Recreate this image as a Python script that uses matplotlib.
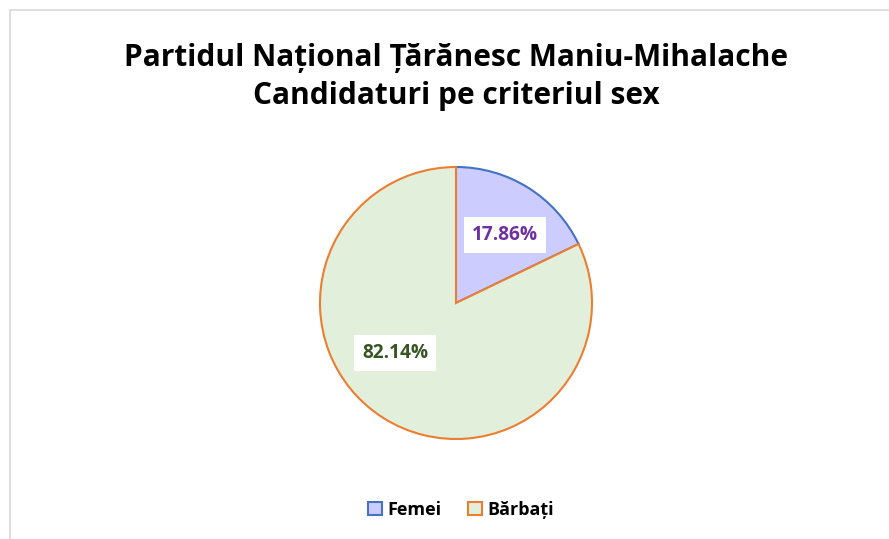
import matplotlib
matplotlib.use("Agg")
import matplotlib.pyplot as plt
from matplotlib.lines import Line2D
from matplotlib.patches import Patch

categories = ["Femei", "Bărbați"]
values = [17.86, 82.14]
label_texts = ["17.86%", "82.14%"]
title = "Partidul Național Țărănesc Maniu-Mihalache\nCandidaturi pe criteriul sex"

fills = ["#CCCCFF", "#E2EFDA"]
edges = ["#4472C4", "#ED7D31"]
label_colors = ["#7030A0", "#375623"]

plt.rcParams['font.family'] = ['Open Sans', 'DejaVu Sans']

W, H = 889, 539
fig = plt.figure(figsize=(W/100, H/100), dpi=100)

# chart border
fig.add_artist(Line2D([10/W, 1.0], [1-10/H, 1-10/H], color="#D9D9D9", lw=1.2, transform=fig.transFigure))
fig.add_artist(Line2D([10/W, 10/W], [0, 1-10/H], color="#D9D9D9", lw=1.2, transform=fig.transFigure))

cx, cy, r = 456, 303, 136
ax = fig.add_axes([(cx-r)/W, (H-cy-r)/H, 2*r/W, 2*r/H])
wedges, _ = ax.pie(values, startangle=90, counterclock=False, radius=1,
                   colors=fills, wedgeprops=dict(linewidth=1.5))
for w, ec in zip(wedges, edges):
    w.set_edgecolor(ec)
ax.set_xlim(-1, 1); ax.set_ylim(-1, 1)
ax.set_aspect('equal')
ax.axis('off')

label_pos = [(505, 235), (395, 353)]
for (px, py), t, c in zip(label_pos, label_texts, label_colors):
    fig.text(px/W, 1-py/H, t, ha='center', va='center', fontsize=13.7,
             fontweight='bold', color=c,
             bbox=dict(facecolor='white', edgecolor='none', pad=5.5))

fig.text(456/W, 1-77/H, title, ha='center', va='center', fontsize=21.5,
         fontweight='bold', color='black', linespacing=1.35)

handles = [Patch(facecolor=f, edgecolor=e, linewidth=1.5) for f, e in zip(fills, edges)]
fig.legend(handles, categories, loc='center', bbox_to_anchor=(461/W, 1-510/H),
           ncol=2, frameon=False, prop=dict(weight='bold', size=13),
           handlelength=0.75, handleheight=0.75, handletextpad=0.3, columnspacing=1.5)

fig.savefig("out.png", dpi=100)
